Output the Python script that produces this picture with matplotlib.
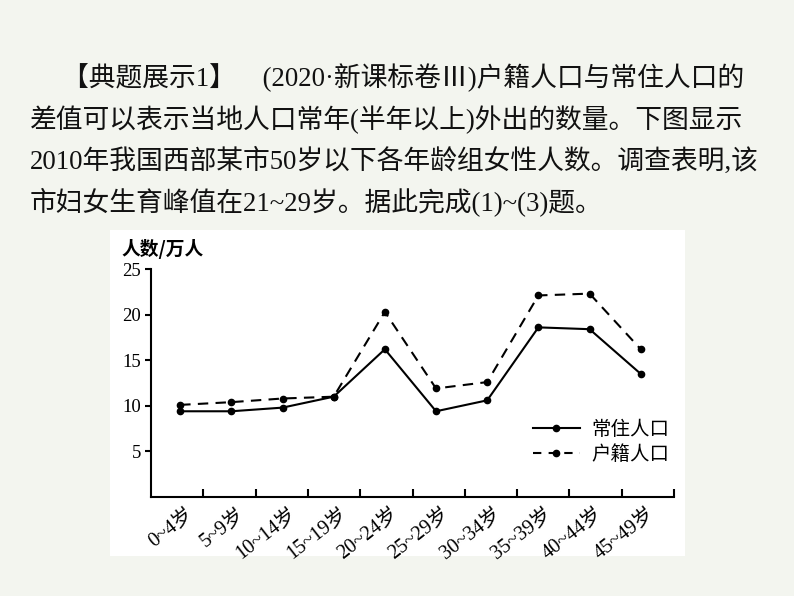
import matplotlib
matplotlib.use("Agg")
import matplotlib.pyplot as plt
from matplotlib.patches import Rectangle
from matplotlib.lines import Line2D

categories = ["0~4岁", "5~9岁", "10~14岁", "15~19岁", "20~24岁",
              "25~29岁", "30~34岁", "35~39岁", "40~44岁", "45~49岁"]
resident = [9.4, 9.4, 9.8, 11.0, 16.2, 9.4, 10.6, 18.6, 18.4, 13.5]
registered = [10.1, 10.4, 10.8, 11.0, 20.3, 11.9, 12.6, 22.1, 22.3, 16.2]
yticks = [5, 10, 15, 20, 25]
series_names = ["常住人口", "户籍人口"]
ylabel = "人数/万人"
para_lines = [
    "【典题展示1】　(2020·新课标卷Ⅲ)户籍人口与常住人口的",
    "差值可以表示当地人口常年(半年以上)外出的数量。下图显示",
    "2010年我国西部某市50岁以下各年龄组女性人数。调查表明,该",
    "市妇女生育峰值在21~29岁。据此完成(1)~(3)题。",
]

FAM = ["Liberation Serif", "Noto Sans CJK SC"]
plt.rcParams["font.family"] = FAM

W, H = 794, 596
fig = plt.figure(figsize=(W / 100, H / 100), dpi=100)
bg = "#f3f5ef"
fig.patch.set_facecolor(bg)

# white panel
fig.patches.append(Rectangle((110 / W, 1 - 556 / H), (685 - 110) / W, (556 - 230) / H,
                             transform=fig.transFigure, facecolor="white",
                             edgecolor="none", zorder=-10))

# paragraph
para_x = [62, 30, 30, 30]
para_y = [78, 120, 161, 202]
for txt, x, y in zip(para_lines, para_x, para_y):
    fig.text(x / W, 1 - y / H, txt, fontsize=19.3, va="center", ha="left",
             family=FAM, color="#111111")

ax = fig.add_axes([151 / W, 1 - 497 / H, (674 - 151) / W, (497 - 269) / H], zorder=5)
ax.set_facecolor("none")
x = list(range(len(categories)))
ax.plot(x, resident, color="black", lw=1.5, marker="o", ms=4.5)
ax.plot(x, registered, color="black", lw=1.5, ls=(0, (5, 3.5)), marker="o", ms=4.5)

x0, x1 = -0.57, 9.65
ax.set_xlim(x0, x1)
ax.set_ylim(0, 25)
step = (x1 - x0) / 10
ax.set_xticks([x0 + k * step for k in range(1, 11)])
ax.set_xticklabels([])
ax.tick_params(axis="x", direction="in", length=6, width=1.5)
ax.set_yticks(yticks)
ax.set_yticklabels([str(v) for v in yticks], fontsize=13.5)
ax.tick_params(axis="y", direction="out", length=4, width=1.5, pad=3)
for s in ["top", "right"]:
    ax.spines[s].set_visible(False)
for s in ["left", "bottom"]:
    ax.spines[s].set_linewidth(1.5)

for i, lab in enumerate(categories):
    ax.annotate(lab, xy=(i, 0), xycoords="data", xytext=(6, -8),
                textcoords="offset pixels", rotation=38, ha="right", va="top",
                rotation_mode="anchor", fontsize=14.5, family=FAM)

fig.text(121 / W, 1 - 249 / H, ylabel, fontsize=13.5, va="center", ha="left",
         family=["Noto Sans CJK SC"], fontweight="bold")

# legend
h1 = Line2D([], [], color="black", lw=1.5, marker="o", ms=4.5)
h2 = Line2D([], [], color="black", lw=1.5, ls=(0, (4, 3.5)), marker="o", ms=4.5)
leg = ax.legend([h1, h2], series_names, loc="lower left",
                bbox_to_anchor=((533 - 151) / (674 - 151), (497 - 465) / (497 - 269)),
                frameon=False, handlelength=2.4, handletextpad=0.6,
                labelspacing=0.2, borderaxespad=0, borderpad=0,
                prop={"family": ["Noto Sans CJK SC"], "size": 14})

fig.savefig("out.png", dpi=100, facecolor=bg)
